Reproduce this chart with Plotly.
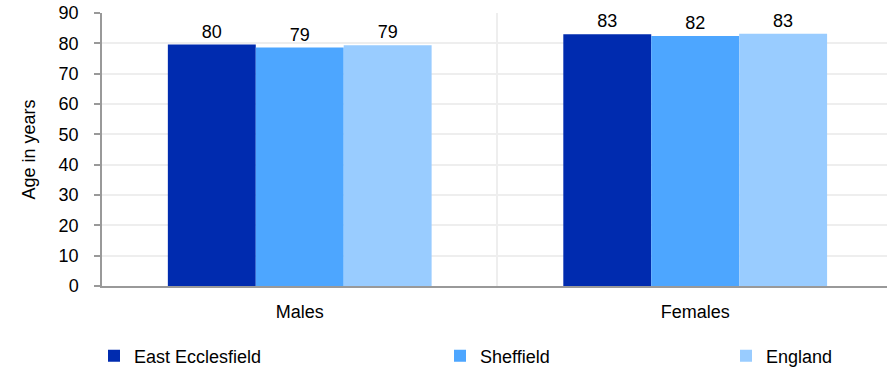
import plotly.graph_objects as go

categories = ["Males", "Females"]
east_ecclesfield = [79.6, 83.0]
sheffield = [78.6, 82.4]
england = [79.4, 83.2]

series = [
    ("East Ecclesfield", east_ecclesfield, "#002BAF", "legend"),
    ("Sheffield", sheffield, "#4DA6FF", "legend2"),
    ("England", england, "#99CCFF", "legend3"),
]

FONT = "Liberation Sans, Arial, sans-serif"
FS = 18

fig = go.Figure()
for name, vals, color, leg in series:
    fig.add_trace(go.Bar(
        x=categories, y=vals, name=name, marker=dict(color=color, line=dict(width=0)),
        texttemplate="%{y:.0f}", textposition="outside", cliponaxis=False,
        textfont=dict(color="black", size=FS), legend=leg,
    ))

# one legend per item so the entries sit where the reference has them
leg_common = dict(orientation="h", xref="container", yref="container", xanchor="left",
                  yanchor="middle", y=0.035, font=dict(size=FS, color="black"),
                  bgcolor="rgba(0,0,0,0)")
fig.update_layout(
    legend=dict(x=94 / 887, **leg_common),
    legend2=dict(x=440 / 887, **leg_common),
    legend3=dict(x=726 / 887, **leg_common),
)

fig.update_xaxes(
    range=[-0.5, 1.485], showline=True, linecolor="#999999", linewidth=2,
    showgrid=True, tickson="boundaries", gridcolor="#EEEEEE", gridwidth=1.5,
    ticks="", tickfont=dict(size=FS, color="black"), ticklabelstandoff=8,
)
fig.update_yaxes(
    range=[0, 90], dtick=10, showline=True, linecolor="#999999", linewidth=1.5,
    ticks="outside", ticklen=6, tickcolor="#999999", tickwidth=1.5,
    showgrid=True, gridcolor="#EEEEEE", gridwidth=1.5, zeroline=False,
    tickfont=dict(size=FS, color="black"), ticklabelstandoff=12,
    title=dict(text="Age in years", font=dict(size=FS, color="black"), standoff=18),
)
fig.update_layout(
    width=887, height=369,
    margin=dict(l=102, r=0, t=13, b=83),
    barmode="group", bargap=0.333, bargroupgap=0,
    plot_bgcolor="white", paper_bgcolor="white",
    font=dict(family=FONT, size=FS, color="black"),
    showlegend=True,
)

# drop the browser's default page margin so the figure fills the window
fig.write_html("out.html", config={"displayModeBar": False},
               post_script="document.body.style.margin='0';")
